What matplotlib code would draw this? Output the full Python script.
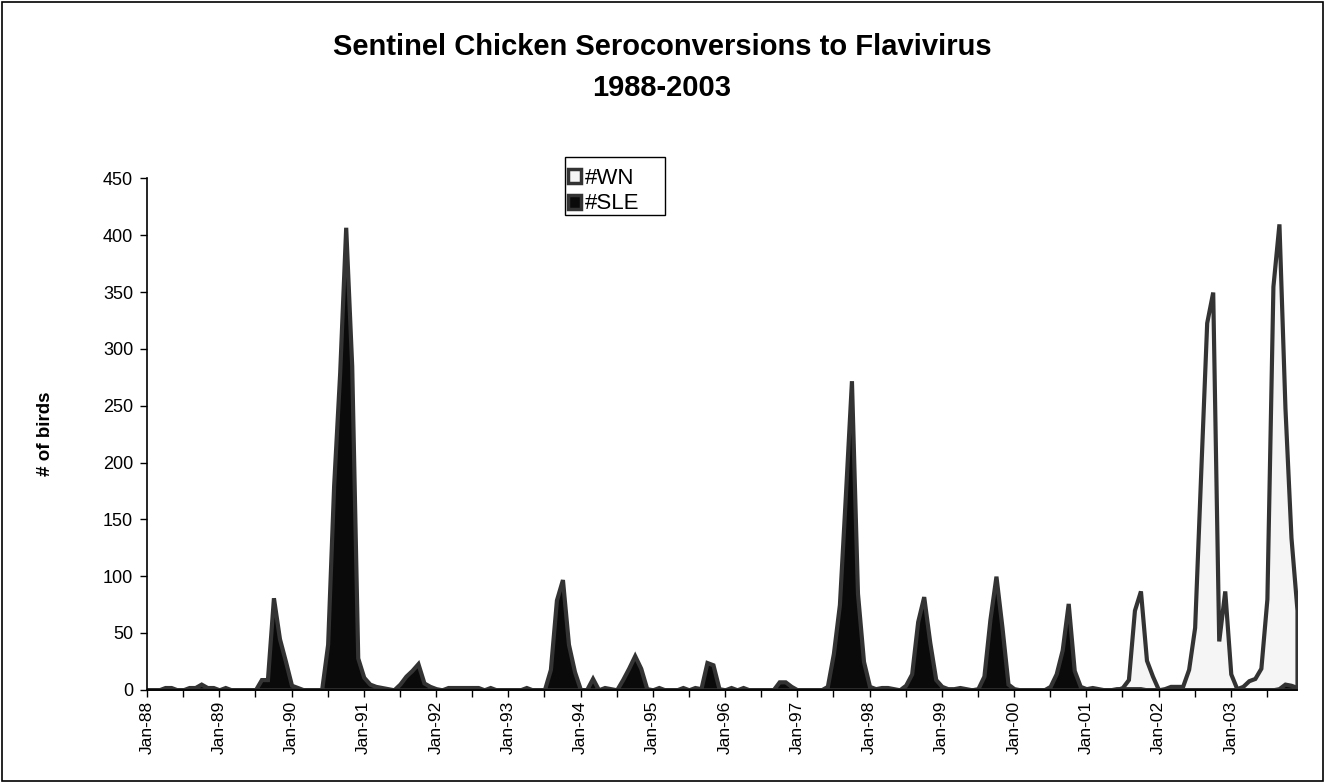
import numpy as np
import matplotlib
matplotlib.use("Agg")
import matplotlib.pyplot as plt
from matplotlib.patches import Patch, Rectangle

plt.rcParams['font.family'] = ['Liberation Sans', 'DejaVu Sans']

# Monthly seroconversion counts, Jan-1988 .. Dec-2003
years = list(range(1988, 2004))
tick_labels = [f"Jan-{y % 100:02d}" for y in years]

sle = [
    0, 0, 0, 2, 2, 0, 0, 2, 2, 5, 2, 2,            # 1988
    0, 2, 0, 0, 0, 0, 0, 9, 9, 81, 45, 25,         # 1989
    4, 2, 0, 0, 0, 0, 40, 180, 279, 407, 285, 28,  # 1990
    11, 5, 3, 2, 1, 0, 5, 12, 17, 23, 6, 3,        # 1991
    1, 0, 2, 2, 2, 2, 2, 2, 0, 2, 0, 0,            # 1992
    0, 0, 0, 2, 0, 0, 0, 18, 79, 97, 40, 16,       # 1993
    0, 0, 10, 0, 2, 1, 0, 9, 19, 30, 19, 1,        # 1994
    0, 2, 0, 0, 0, 2, 0, 2, 1, 24, 22, 1,          # 1995
    0, 2, 0, 2, 0, 0, 0, 0, 0, 7, 7, 3,            # 1996
    0, 0, 0, 0, 0, 3, 32, 75, 172, 272, 85, 25,    # 1997
    3, 1, 2, 2, 1, 0, 4, 14, 60, 82, 42, 9,        # 1998
    3, 1, 1, 2, 1, 0, 1, 12, 62, 100, 55, 5,       # 1999
    1, 0, 0, 0, 0, 0, 3, 14, 35, 76, 17, 3,        # 2000
    1, 2, 1, 0, 0, 1, 1, 1, 1, 1, 0, 0,            # 2001
    0, 0, 0, 0, 0, 0, 0, 0, 0, 0, 0, 0,            # 2002
    0, 0, 0, 0, 0, 0, 0, 0, 1, 5, 4, 2,            # 2003
]

wn = [0] * (13 * 12) + [
    0, 0, 0, 0, 0, 0, 2, 9, 70, 87, 26, 12,           # 2001
    0, 1, 3, 3, 3, 18, 55, 190, 323, 350, 43, 87,     # 2002
    14, 1, 3, 8, 10, 19, 80, 355, 410, 248, 134, 70,  # 2003
]

months = np.arange(len(sle))

fig = plt.figure(figsize=(13.24, 7.82), dpi=100)
ax = fig.add_axes([147 / 1324, 1 - 689.8 / 782, 1150 / 1324, 511.4 / 782])

edge = '#333333'
ax.fill_between(months, 0, wn, facecolor='#f5f5f5', edgecolor=edge,
                linewidth=3.0, joinstyle='miter', zorder=2, label='#WN')
ax.fill_between(months, 0, sle, facecolor='#0a0a0a', edgecolor=edge,
                linewidth=3.0, joinstyle='miter', zorder=3, label='#SLE')

ax.set_xlim(0, len(sle) - 1)
ax.set_ylim(0, 450)
ax.set_yticks(np.arange(0, 451, 50))
ax.set_xticks(np.arange(0, len(sle), 12))
ax.set_xticklabels(tick_labels, rotation=90, fontsize=12.5)
ax.set_xticks(np.arange(6, len(sle), 12), minor=True)
ax.tick_params(axis='y', labelsize=13, direction='out', length=5, width=1, pad=5)
ax.tick_params(axis='x', which='both', direction='out', length=5, width=1, pad=3)

for side in ('top', 'right'):
    ax.spines[side].set_visible(False)
for side in ('left', 'bottom'):
    ax.spines[side].set_linewidth(1.2)
    ax.spines[side].set_zorder(5)

ax.set_ylabel('# of birds', fontsize=13.5, fontweight='bold', labelpad=35)

fig.text(0.5, 1 - 47 / 782, 'Sentinel Chicken Seroconversions to Flavivirus',
         ha='center', va='center', fontsize=21, fontweight='bold')
fig.text(0.5, 1 - 88 / 782, '1988-2003',
         ha='center', va='center', fontsize=21, fontweight='bold')

# Legend entries without a frame; the box is drawn separately
handles = [Patch(facecolor='#f5f5f5', edgecolor=edge, linewidth=2.5, label='#WN'),
           Patch(facecolor='#0a0a0a', edgecolor=edge, linewidth=2.5, label='#SLE')]
leg = fig.legend(handles=handles, loc='upper left',
                 bbox_to_anchor=(568 / 1324, 1 - 168 / 782),
                 fontsize=16, frameon=False,
                 handlelength=0.6, handleheight=0.6, handletextpad=0.15,
                 labelspacing=0.2, borderpad=0, borderaxespad=0)
fig.patches.append(Rectangle((565 / 1324, 1 - 215 / 782), 100 / 1324, 58 / 782,
                             transform=fig.transFigure, facecolor='white',
                             edgecolor='black', linewidth=1.0, zorder=4))
leg.set_zorder(6)

fig.patches.append(Rectangle((1.5 / 1324, 1.5 / 782), 1 - 3 / 1324, 1 - 3 / 782,
                             transform=fig.transFigure, fill=False,
                             edgecolor='black', linewidth=1.2))

fig.savefig('out.png', dpi=100)
